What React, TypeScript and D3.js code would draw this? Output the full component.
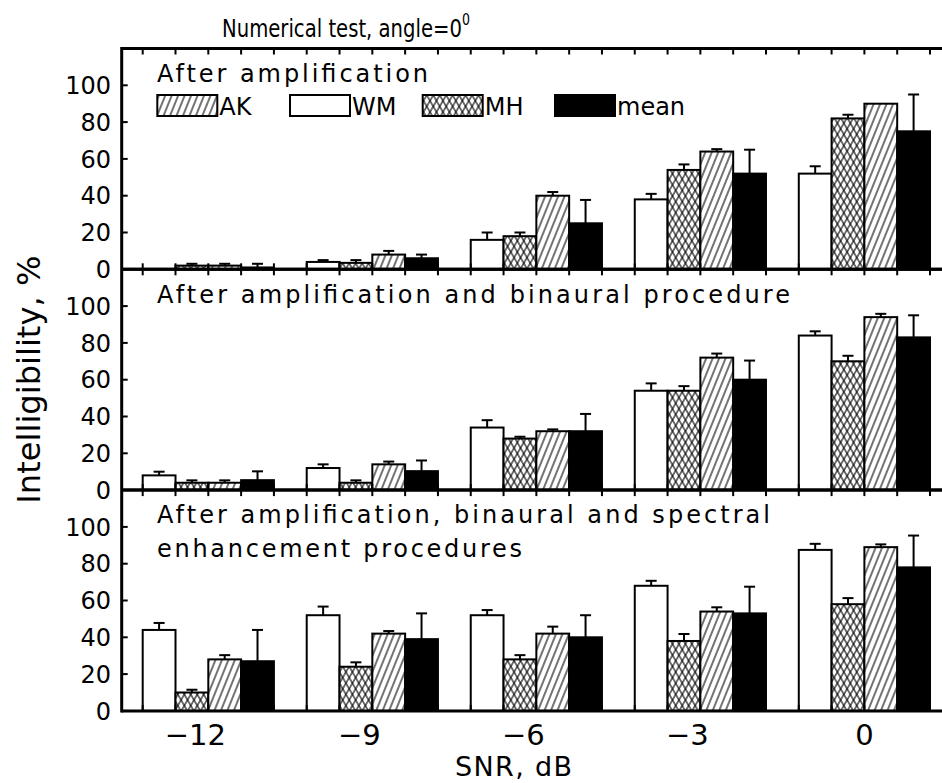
import * as d3 from "d3";

// ── Data ───────────────────────────────────────────────────
const SNR_LABELS = ["−12", "−9", "−6", "−3", "0"];
const SERIES = ["WM", "MH", "AK", "mean"]; // order of the bars inside a group
const LEGEND_ORDER = ["AK", "WM", "MH", "mean"];
const Y_TICKS = [0, 20, 40, 60, 80, 100];

// After amplification
const AMP_WM = [0, 4, 16, 38, 52];
const AMP_WM_ERR = [0, 1, 4, 3, 4];
const AMP_MH = [2, 3.5, 18, 54, 82];
const AMP_MH_ERR = [1, 1.5, 2, 3, 2];
const AMP_AK = [2, 8, 40, 64, 90];
const AMP_AK_ERR = [1, 2, 2, 1.3, 0];
const AMP_MEAN = [1, 6, 25, 52, 75];
const AMP_MEAN_ERR = [2, 2, 12.7, 13, 20];

// After amplification and binaural procedure
const BIN_WM = [8, 12, 34, 54, 84];
const BIN_WM_ERR = [2, 2, 4, 4, 2.3];
const BIN_MH = [4, 4, 28, 54, 70];
const BIN_MH_ERR = [1.3, 1.3, 1, 2.5, 3];
const BIN_AK = [4, 14, 32, 72, 94];
const BIN_AK_ERR = [1.3, 1.5, 1, 2.2, 1.8];
const BIN_MEAN = [5.4, 10.3, 32, 60, 83];
const BIN_MEAN_ERR = [4.8, 5.8, 9.4, 10.4, 12];

// After amplification, binaural and spectral enhancement procedures
const SPEC_WM = [44, 52, 52, 68, 87.5];
const SPEC_WM_ERR = [3.8, 4.7, 2.8, 2.7, 3.3];
const SPEC_MH = [10, 24, 28, 38, 58];
const SPEC_MH_ERR = [1.5, 2.4, 2.3, 3.8, 3.3];
const SPEC_AK = [28, 42, 42, 54, 89];
const SPEC_AK_ERR = [2.3, 1.4, 3.8, 2.3, 1.5];
const SPEC_MEAN = [27, 39, 40, 53, 78];
const SPEC_MEAN_ERR = [17, 14, 12, 14.5, 17.3];

const PANELS = [
  {
    title: ["After amplification"],
    values: { WM: AMP_WM, MH: AMP_MH, AK: AMP_AK, mean: AMP_MEAN },
    errors: { WM: AMP_WM_ERR, MH: AMP_MH_ERR, AK: AMP_AK_ERR, mean: AMP_MEAN_ERR },
  },
  {
    title: ["After amplification and binaural procedure"],
    values: { WM: BIN_WM, MH: BIN_MH, AK: BIN_AK, mean: BIN_MEAN },
    errors: { WM: BIN_WM_ERR, MH: BIN_MH_ERR, AK: BIN_AK_ERR, mean: BIN_MEAN_ERR },
  },
  {
    title: ["After amplification, binaural and spectral", "enhancement procedures"],
    values: { WM: SPEC_WM, MH: SPEC_MH, AK: SPEC_AK, mean: SPEC_MEAN },
    errors: { WM: SPEC_WM_ERR, MH: SPEC_MH_ERR, AK: SPEC_AK_ERR, mean: SPEC_MEAN_ERR },
  },
];

// ── Layout ─────────────────────────────────────────────────
const W = 942;
const H = 783;
const FONT = "'DejaVu Sans', sans-serif";
const axisX = 121.7;
const rightX = 951; // frame runs past the picture edge
const panelTop0 = 48.5;
const panelH = 220.8;
const SLOTS = SNR_LABELS.length * (SERIES.length + 1) - 1; // 24 bar-slots

const x = d3.scaleLinear().domain([0, SLOTS]).range([142.7, 930]);
const slotTicks = d3.range(0, SLOTS + 1);

const TITLE_LEN = [[271], [633], [613, 365]];

function barFill(name: string) {
  if (name === "WM") return ["#fff"];
  if (name === "mean") return ["#000"];
  if (name === "AK") return ["#fff", "url(#hatchAK)"];
  return ["#fff", "url(#crossA)", "url(#crossB)"];
}

function Bar({ x0, x1, y0, y1, name }) {
  const h = Math.max(y0 - y1, 0);
  return (
    <g>
      {barFill(name).map((f, i) => (
        <rect key={i} x={x0} y={y1} width={x1 - x0} height={h} fill={f} />
      ))}
      <rect x={x0} y={y1} width={x1 - x0} height={h} fill="none" stroke="#000" strokeWidth={2} />
    </g>
  );
}

function Panel({ panel, index }) {
  const top = panelTop0 + index * panelH;
  const y = d3.scaleLinear().domain([0, 120]).range([top + panelH, top]);
  const zero = y(0);
  return (
    <g>
      {/* bars */}
      {SNR_LABELS.map((_, g) =>
        SERIES.map((s, k) => {
          const v = panel.values[s][g];
          if (!v) return null;
          const x0 = x(g * 5 + k);
          const x1 = x(g * 5 + k + 1);
          return <Bar key={`${g}-${s}`} x0={x0} x1={x1} y0={zero} y1={y(v)} name={s} />;
        })
      )}
      {/* error bars */}
      {SNR_LABELS.map((_, g) =>
        SERIES.map((s, k) => {
          const v = panel.values[s][g];
          const e = panel.errors[s][g];
          if (!v || !e) return null;
          const cx = x(g * 5 + k + 0.5);
          return (
            <g key={`e${g}-${s}`} stroke="#000" strokeWidth={2}>
              <line x1={cx} x2={cx} y1={y(v)} y2={y(v + e)} />
              <line x1={cx - 5.5} x2={cx + 5.5} y1={y(v + e)} y2={y(v + e)} />
            </g>
          );
        })
      )}
      {/* frame lines */}
      <line x1={axisX} x2={rightX} y1={top} y2={top} stroke="#000" strokeWidth={3} />
      <line x1={axisX} x2={rightX} y1={zero} y2={zero} stroke="#000" strokeWidth={3} />
      {slotTicks.map((t) => (
        <g key={t} stroke="#000" strokeWidth={2}>
          <line x1={x(t)} x2={x(t)} y1={top} y2={top + 6} />
          <line x1={x(t)} x2={x(t)} y1={zero} y2={zero - 6} />
        </g>
      ))}
      {Y_TICKS.map((t) => (
        <g key={t}>
          <line x1={axisX} x2={axisX + 6} y1={y(t)} y2={y(t)} stroke="#000" strokeWidth={2} />
          <text x={111} y={y(t)} dy="0.36em" textAnchor="end" fontSize={24} fontFamily={FONT}>
            {t}
          </text>
        </g>
      ))}
      {/* panel title */}
      {panel.title.map((line, i) => (
        <text key={i} x={157} y={top + 33.3 + i * 33.7} fontSize={24} fontFamily={FONT}
          textLength={TITLE_LEN[index][i]} lengthAdjust="spacing">
          {line}
        </text>
      ))}
    </g>
  );
}

const LEGEND_X = [157.3, 290, 422.7, 555];

export default function App() {
  const bottom = panelTop0 + 3 * panelH;
  return (
    <div style={{ position: "absolute", left: 0, top: 0 }}>
      <svg width={W} height={H} style={{ display: "block", background: "#fff" }}>
        <defs>
          <pattern id="hatchAK" patternUnits="userSpaceOnUse" width={6} height={30} patternTransform="rotate(22)">
            <line x1={3} y1={0} x2={3} y2={30} stroke="#000" strokeWidth={1.1} />
          </pattern>
          <pattern id="crossA" patternUnits="userSpaceOnUse" width={5.6} height={30} patternTransform="rotate(30)">
            <line x1={2.8} y1={0} x2={2.8} y2={30} stroke="#000" strokeWidth={1.1} />
          </pattern>
          <pattern id="crossB" patternUnits="userSpaceOnUse" width={5.6} height={30} patternTransform="rotate(-30)">
            <line x1={2.8} y1={0} x2={2.8} y2={30} stroke="#000" strokeWidth={1.1} />
          </pattern>
        </defs>

        <text x={222} y={37} fontSize={25} fontFamily={FONT} textLength={248} lengthAdjust="spacingAndGlyphs">
          Numerical test, angle=0<tspan dy={-12} fontSize={16}>0</tspan>
        </text>

        {PANELS.map((p, i) => (
          <Panel key={i} panel={p} index={i} />
        ))}

        {/* left axis */}
        <line x1={axisX} x2={axisX} y1={panelTop0 - 1.5} y2={bottom + 1.5} stroke="#000" strokeWidth={3} />

        {/* legend */}
        {LEGEND_ORDER.map((s, i) => (
          <g key={s}>
            <Bar x0={LEGEND_X[i]} x1={LEGEND_X[i] + 60} y0={116} y1={95} name={s} />
            <text x={LEGEND_X[i] + 62} y={115} fontSize={24} fontFamily={FONT}>{s}</text>
          </g>
        ))}

        {/* x tick labels */}
        {SNR_LABELS.map((l, g) => (
          <text key={l} x={x(g * 5 + 2)} dx={l.startsWith("−") ? -13 : 0} y={745}
            textAnchor="middle" fontSize={29} fontFamily={FONT}>
            {l}
          </text>
        ))}
        <text x={455} y={776} fontSize={27} fontFamily={FONT} textLength={117} lengthAdjust="spacing">
          SNR, dB
        </text>

        <text transform={`translate(40, ${(panelTop0 + bottom) / 2}) rotate(-90)`} textAnchor="middle"
          fontSize={32} fontFamily={FONT} textLength={248} lengthAdjust="spacing">
          Intelligibility, %
        </text>
      </svg>
    </div>
  );
}
